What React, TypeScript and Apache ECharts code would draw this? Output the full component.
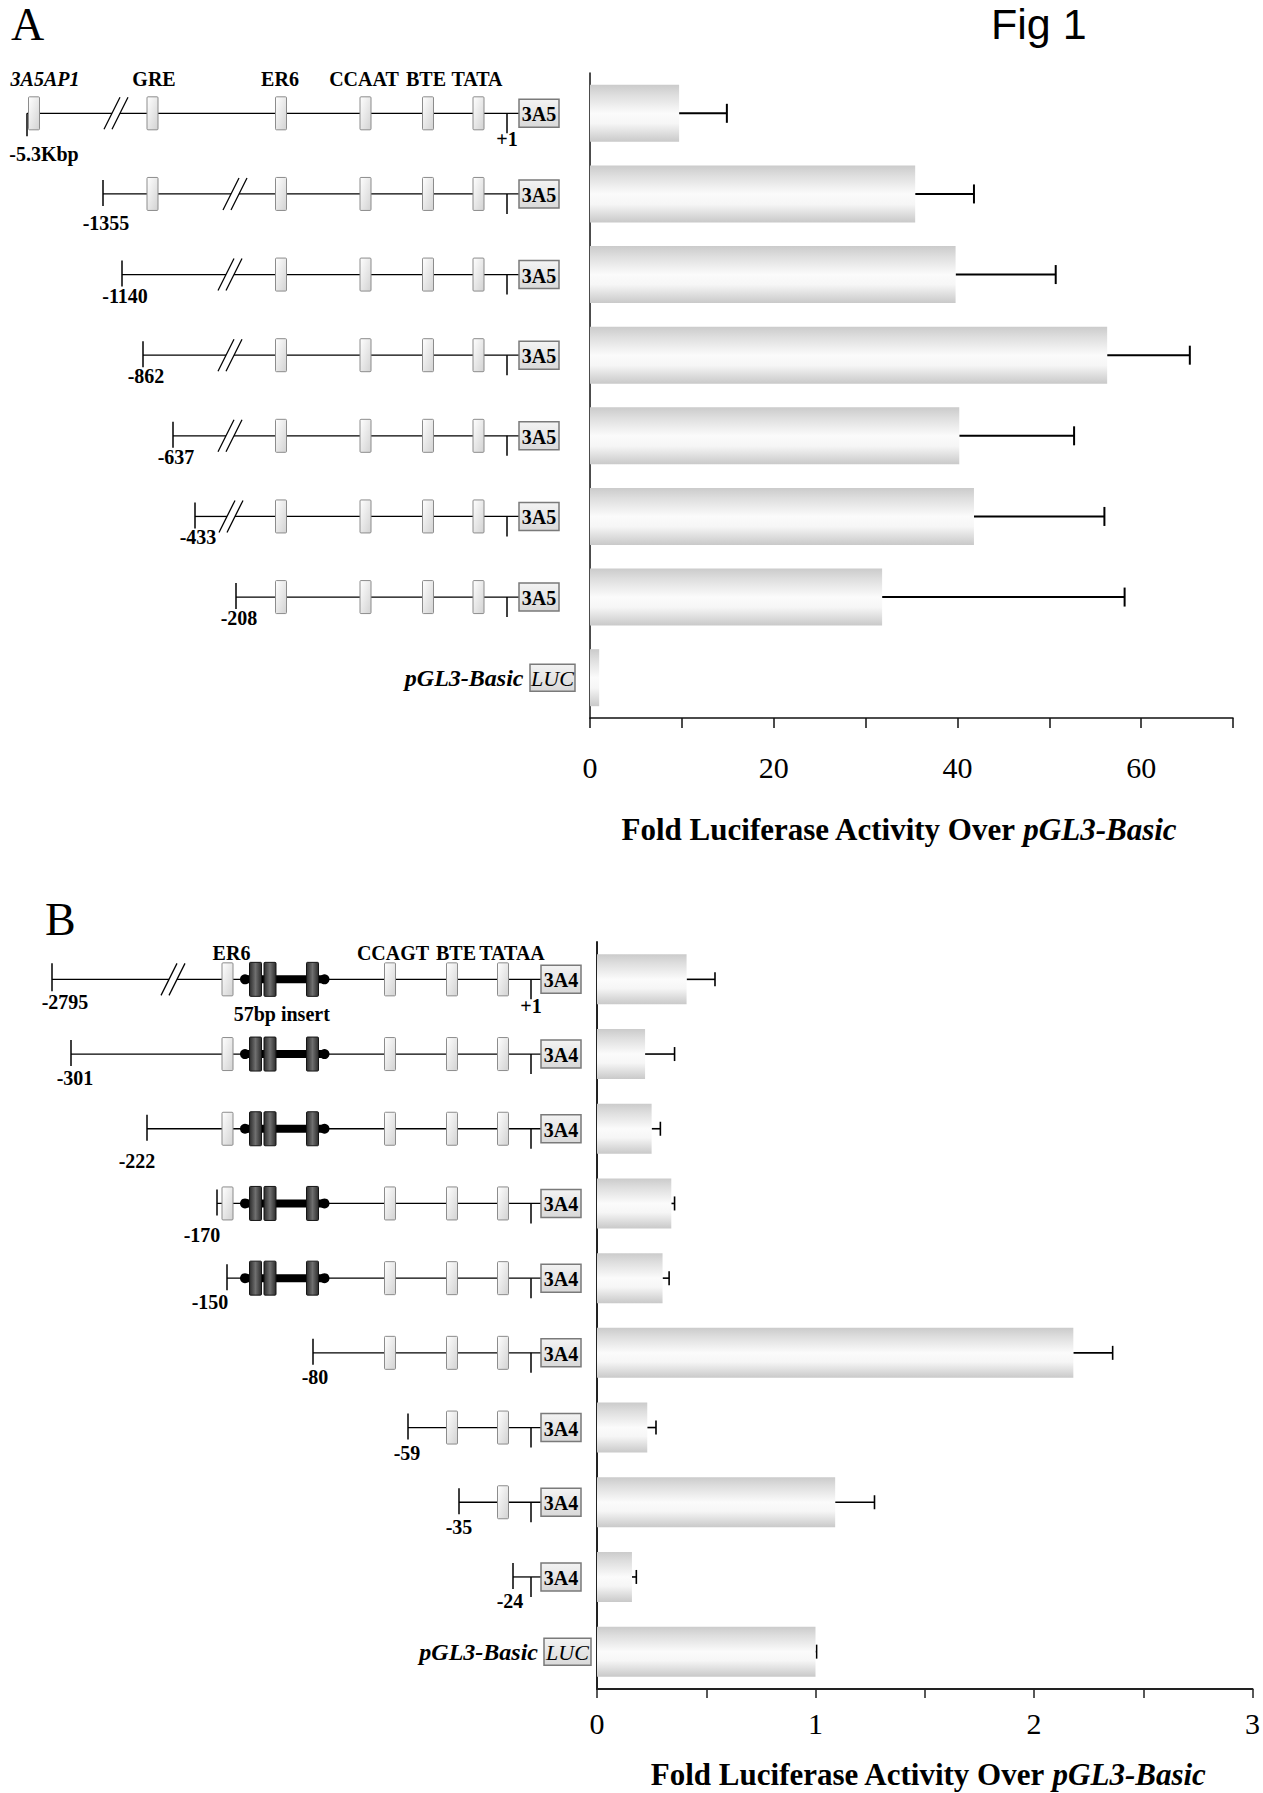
import React, { useEffect, useRef } from 'react';
import * as echarts from 'echarts';

const SERIF = '"Liberation Serif", "Times New Roman", Times, serif';
const SANS = '"Liberation Sans", Arial, Helvetica, sans-serif';

// ---------------- Panel A data (CYP3A5 promoter constructs) ----------------
const aConstructs = ['-5.3Kbp', '-1355', '-1140', '-862', '-637', '-433', '-208', 'pGL3-Basic'];
const aFoldActivity = [9.7, 35.4, 39.8, 56.3, 40.2, 41.8, 31.8, 1.0];
const aErrorTop: (number | null)[] = [14.9, 41.8, 50.7, 65.3, 52.7, 56.0, 58.2, null];
const aAxisMax = 70;
const aAxisStep = 10;
const aLabelStep = 20;

// schematic of panel A (schematic x units)
const aElementNames = ['3A5AP1', 'GRE', 'ER6', 'CCAAT', 'BTE', 'TATA'];
const aElementPos = [34, 152.5, 281, 365.5, 428, 478.5];
const aRowElements = [[0, 1, 2, 3, 4, 5], [1, 2, 3, 4, 5], [2, 3, 4, 5], [2, 3, 4, 5], [2, 3, 4, 5], [2, 3, 4, 5], [2, 3, 4, 5]];
const aStartPos = [27, 103, 122, 143, 173, 195, 236];
const aBreakPos: (number | null)[] = [116, 235, 230, 230, 230, 231, null];
const aLabelPos = [30, 106, 125, 146, 176, 198, 239];

// ---------------- Panel B data (CYP3A4 promoter constructs) ----------------
const bConstructs = ['-2795', '-301', '-222', '-170', '-150', '-80', '-59', '-35', '-24', 'pGL3-Basic'];
const bFoldActivity = [0.41, 0.22, 0.25, 0.34, 0.30, 2.18, 0.23, 1.09, 0.16, 1.0];
const bErrorTop = [0.54, 0.355, 0.29, 0.355, 0.33, 2.36, 0.27, 1.27, 0.18, 1.005];
const bAxisMax = 3;
const bAxisStep = 0.5;
const bLabelStep = 1;

// schematic of panel B
const bElementNames = ['ER6', 'CCAGT', 'BTE', 'TATAA'];
const bElementPos = [227.5, 390, 452, 503];
const bInsertBoxes = [255.5, 270, 312.5];
const bInsertSpan = [245, 324.5];
const bInsertName = '57bp insert';
const bRowElements = [[0, 1, 2, 3], [0, 1, 2, 3], [0, 1, 2, 3], [0, 1, 2, 3], [1, 2, 3], [1, 2, 3], [2, 3], [3], []];
const bRowInsert = [true, true, true, true, true, false, false, false, false];
const bStartPos = [52, 71, 147, 217, 227, 313, 408, 459, 513];
const bBreakPos: (number | null)[] = [173, null, null, null, null, null, null, null, null];
const bLabelPos = [65, 75, 137, 202, 210, 315, 407, 459, 510];

// ---------------- layout constants (not data) ----------------
const aLabelDy = [41, 29, 21, 21, 21, 21, 21];
const bLabelDy = [23, 24, 32, 32, 24, 24, 25, 25, 24];

// ---------------- helpers ----------------
const barFill = () =>
  new echarts.graphic.LinearGradient(0, 0, 0, 1, [
    { offset: 0, color: '#cbcbcb' },
    { offset: 0.18, color: '#dedede' },
    { offset: 0.5, color: '#fbfbfb' },
    { offset: 0.68, color: '#f6f6f6' },
    { offset: 1, color: '#c9c9c9' },
  ]);
const lightBoxFill = () =>
  new echarts.graphic.LinearGradient(0, 0, 1, 1, [
    { offset: 0, color: '#ffffff' },
    { offset: 1, color: '#d2d2d2' },
  ]);
const darkBoxFill = () =>
  new echarts.graphic.LinearGradient(0, 0, 1, 0, [
    { offset: 0, color: '#2c2c2c' },
    { offset: 0.5, color: '#6f6f6f' },
    { offset: 1, color: '#2c2c2c' },
  ]);
const geneFill = () =>
  new echarts.graphic.LinearGradient(0, 0, 0, 1, [
    { offset: 0, color: '#f3f3f3' },
    { offset: 1, color: '#d9d9d9' },
  ]);

interface SchematicCfg {
  labels: string[];
  startPos: number[];
  labelPos: number[];
  labelDy: number[];
  firstTick: [number, number];
  breakPos: (number | null)[];
  rowElements: number[][];
  elementPos: number[];
  elementNames: string[];
  elementItalic: boolean[];
  elementLabelDy: number;
  elementLabelShift: number[];
  tssPos: number;
  tssLabelDy: number;
  geneLeft: number;
  geneName: string;
  basicRight: number;
  lucLeft: number;
  lucWidth: number;
  insertRows?: boolean[];
  insertBoxes?: number[];
  insertSpan?: number[];
  insertName?: string;
}

function schematicRenderer(s: SchematicCfg) {
  return function (_params: any, api: any) {
    const row = api.value(1) as number;
    const X = (v: number) => api.coord([v, row])[0];
    const y = api.coord([0, row])[1];
    const kids: any[] = [];
    const line = (x1: number, y1: number, x2: number, y2: number, w = 1.3) =>
      kids.push({ type: 'line', shape: { x1, y1, x2, y2 }, style: { stroke: '#000', lineWidth: w } });
    const text = (t: string, x: number, yy: number, opts: any = {}) =>
      kids.push({
        type: 'text',
        style: {
          text: t, x, y: yy, fill: '#000', fontFamily: SERIF, fontSize: 20, fontWeight: 'bold',
          align: 'center', verticalAlign: 'middle', textAlign: 'center', textVerticalAlign: 'middle',
          ...opts,
        },
      });

    if (row === s.labels.length) {
      text('pGL3-Basic', X(s.basicRight), y, { align: 'right', textAlign: 'right', fontStyle: 'italic', fontSize: 24 });
      kids.push({
        type: 'rect',
        shape: { x: X(s.lucLeft), y: y - 13.5, width: X(s.lucLeft + s.lucWidth) - X(s.lucLeft), height: 27 },
        style: { fill: geneFill(), stroke: '#7a7a7a', lineWidth: 1.5 },
      });
      text('LUC', X(s.lucLeft + s.lucWidth / 2), y + 1, { fontStyle: 'italic', fontWeight: 'normal', fontSize: 22 });
      return { type: 'group', children: kids };
    }

    const start = s.startPos[row];
    const brk = s.breakPos[row];
    const gap = 4;
    if (brk != null) {
      line(X(start), y, X(brk - gap), y);
      line(X(brk + gap), y, X(s.geneLeft), y);
      [-gap, gap].forEach((d) => line(X(brk + d - 8), y + 16, X(brk + d + 8), y - 16, 1.3));
    } else {
      line(X(start), y, X(s.geneLeft), y);
    }
    // start tick
    if (row === 0) line(X(start), y + s.firstTick[0], X(start), y + s.firstTick[1], 1.5);
    else line(X(start), y - 14, X(start), y + 12, 1.5);

    // 57 bp insert
    if (s.insertRows && s.insertRows[row] && s.insertBoxes && s.insertSpan) {
      const [i0, i1] = s.insertSpan;
      kids.push({ type: 'rect', shape: { x: X(i0), y: y - 4, width: X(i1) - X(i0), height: 8 }, style: { fill: '#000' } });
      kids.push({ type: 'circle', shape: { cx: X(i0), cy: y, r: 5 }, style: { fill: '#000' } });
      kids.push({ type: 'circle', shape: { cx: X(i1), cy: y, r: 5 }, style: { fill: '#000' } });
      s.insertBoxes.forEach((p) =>
        kids.push({
          type: 'rect',
          shape: { x: X(p) - 6, y: y - 17, width: 12, height: 34, r: 1 },
          style: { fill: darkBoxFill(), stroke: '#151515', lineWidth: 1 },
        })
      );
      if (row === 0 && s.insertName) text(s.insertName, X((i0 + i1) / 2 - 3), y + 35);
    }

    // regulatory element boxes
    s.rowElements[row].forEach((ei) => {
      const p = s.elementPos[ei];
      kids.push({
        type: 'rect',
        shape: { x: X(p) - 5.5, y: y - 16.5, width: 11, height: 33, r: 1 },
        style: { fill: lightBoxFill(), stroke: '#8c8c8c', lineWidth: 1 },
      });
    });

    // transcription start (+1)
    line(X(s.tssPos), y, X(s.tssPos), y + 20, 1.5);

    // reporter gene box
    kids.push({
      type: 'rect',
      shape: { x: X(s.geneLeft), y: y - 14, width: X(s.geneLeft + 40) - X(s.geneLeft), height: 28 },
      style: { fill: geneFill(), stroke: '#7a7a7a', lineWidth: 1.5 },
    });
    text(s.geneName, X(s.geneLeft + 20), y + 1);

    // construct label
    const lbl = s.labels[row];
    const approxW = lbl.length * 10;
    const cx = Math.max(s.labelPos[row], 9 + approxW / 2);
    text(lbl, X(cx), y + s.labelDy[row]);

    if (row === 0) {
      s.elementNames.forEach((nm, ei) => {
        const w = nm.length * 12;
        const c = Math.max(s.elementPos[ei] + s.elementLabelShift[ei], 9 + w / 2);
        text(nm, X(c), y + s.elementLabelDy, s.elementItalic[ei] ? { fontStyle: 'italic' } : {});
      });
      text('+1', X(s.tssPos), y + s.tssLabelDy);
    }
    return { type: 'group', children: kids };
  };
}

const aSchematic: SchematicCfg = {
  labels: aConstructs.slice(0, 7),
  startPos: aStartPos,
  labelPos: aLabelPos,
  labelDy: aLabelDy,
  firstTick: [0, 23],
  breakPos: aBreakPos,
  rowElements: aRowElements,
  elementPos: aElementPos,
  elementNames: aElementNames,
  elementItalic: [true, false, false, false, false, false],
  elementLabelDy: -34,
  elementLabelShift: [0, 1.5, -1, -1.5, -2, -1.5],
  tssPos: 507,
  tssLabelDy: 26,
  geneLeft: 519,
  geneName: '3A5',
  basicRight: 523.5,
  lucLeft: 530,
  lucWidth: 45,
};

const bSchematic: SchematicCfg = {
  labels: bConstructs.slice(0, 9),
  startPos: bStartPos,
  labelPos: bLabelPos,
  labelDy: bLabelDy,
  firstTick: [-16, 12],
  breakPos: bBreakPos,
  rowElements: bRowElements,
  elementPos: bElementPos,
  elementNames: bElementNames,
  elementItalic: [false, false, false, false],
  elementLabelShift: [4, 3, 4, 9],
  elementLabelDy: -26,
  tssPos: 531,
  tssLabelDy: 27,
  geneLeft: 541,
  geneName: '3A4',
  basicRight: 538,
  lucLeft: 544,
  lucWidth: 47,
  insertRows: bRowInsert,
  insertBoxes: bInsertBoxes,
  insertSpan: bInsertSpan,
  insertName: bInsertName,
};

function errorRenderer(cap: number, width: number) {
  return function (_params: any, api: any) {
    const row = api.value(1);
    const p0 = api.coord([api.value(0), row]);
    const p1 = api.coord([api.value(2), row]);
    return {
      type: 'group',
      children: [
        { type: 'line', shape: { x1: p0[0], y1: p0[1], x2: p1[0], y2: p1[1] }, style: { stroke: '#000', lineWidth: width } },
        { type: 'line', shape: { x1: p1[0], y1: p1[1] - cap / 2, x2: p1[0], y2: p1[1] + cap / 2 }, style: { stroke: '#000', lineWidth: width } },
      ],
    };
  };
}

const titleRich = {
  n: { fontFamily: SERIF, fontSize: 31, fontWeight: 'bold', color: '#000' },
  i: { fontFamily: SERIF, fontSize: 31, fontWeight: 'bold', fontStyle: 'italic', color: '#000' },
};
const axisTitle = '{n|Fold Luciferase Activity Over }{i|pGL3-Basic}';

function buildOption() {
  const axisLineStyle = { color: '#111', width: 1.5 };
  return {
    animation: false,
    backgroundColor: '#ffffff',
    grid: [
      { left: 590, top: 73, width: 643, height: 645 },
      { left: 0, top: 73, width: 590, height: 645 },
      { left: 597, top: 942, width: 656, height: 747 },
      { left: 0, top: 942, width: 597, height: 747 },
    ],
    xAxis: [
      {
        type: 'value', gridIndex: 0, min: 0, max: aAxisMax, interval: aAxisStep,
        axisLine: { show: true, lineStyle: axisLineStyle },
        axisTick: { show: true, length: 10, lineStyle: axisLineStyle },
        splitLine: { show: false },
        axisLabel: {
          margin: 34, fontFamily: SERIF, fontSize: 30, color: '#000',
          formatter: (v: number) => (v % aLabelStep === 0 ? String(v) : ''),
        },
        name: axisTitle, nameLocation: 'middle', nameGap: 111.5,
        nameTextStyle: { rich: titleRich, verticalAlign: 'middle', padding: [0, 26, 0, 0] },
      },
      { type: 'value', gridIndex: 1, min: 0, max: 590, show: false },
      {
        type: 'value', gridIndex: 2, min: 0, max: bAxisMax, interval: bAxisStep,
        axisLine: { show: true, lineStyle: { color: '#222', width: 2 } },
        axisTick: { show: true, length: 9, lineStyle: { color: '#222', width: 1.5 } },
        splitLine: { show: false },
        axisLabel: {
          margin: 19, fontFamily: SERIF, fontSize: 30, color: '#000',
          formatter: (v: number) => (Math.abs(v % bLabelStep) < 1e-9 ? String(v) : ''),
        },
        name: axisTitle, nameLocation: 'middle', nameGap: 85.5,
        nameTextStyle: { rich: titleRich, verticalAlign: 'middle', padding: [0, 0, 0, 6] },
      },
      { type: 'value', gridIndex: 3, min: 0, max: 597, show: false },
    ],
    yAxis: [
      {
        type: 'category', gridIndex: 0, inverse: true, data: aConstructs,
        axisLine: { show: true, lineStyle: axisLineStyle }, axisTick: { show: false }, axisLabel: { show: false },
      },
      { type: 'category', gridIndex: 1, inverse: true, data: aConstructs, show: false },
      {
        type: 'category', gridIndex: 2, inverse: true, data: bConstructs,
        axisLine: { show: true, lineStyle: { color: '#222', width: 2 } }, axisTick: { show: false }, axisLabel: { show: false },
      },
      { type: 'category', gridIndex: 3, inverse: true, data: bConstructs, show: false },
    ],
    series: [
      {
        type: 'bar', name: 'A activity', xAxisIndex: 0, yAxisIndex: 0, data: aFoldActivity, barWidth: 57,
        itemStyle: { color: barFill() }, silent: true,
      },
      {
        type: 'custom', name: 'A error', xAxisIndex: 0, yAxisIndex: 0,
        data: aFoldActivity.map((v, i) => [v, i, aErrorTop[i]]).filter((d) => d[2] != null),
        encode: { x: [0, 2], y: 1 }, renderItem: errorRenderer(19, 2), silent: true,
      },
      {
        type: 'custom', name: 'A constructs', xAxisIndex: 1, yAxisIndex: 1,
        data: aConstructs.map((_, i) => [0, i]), encode: { x: 0, y: 1 },
        renderItem: schematicRenderer(aSchematic), silent: true,
      },
      {
        type: 'bar', name: 'B activity', xAxisIndex: 2, yAxisIndex: 2, data: bFoldActivity, barWidth: 50,
        itemStyle: { color: barFill() }, silent: true,
      },
      {
        type: 'custom', name: 'B error', xAxisIndex: 2, yAxisIndex: 2,
        data: bFoldActivity.map((v, i) => [v, i, bErrorTop[i]]),
        encode: { x: [0, 2], y: 1 }, renderItem: errorRenderer(14, 1.6), silent: true,
      },
      {
        type: 'custom', name: 'B constructs', xAxisIndex: 3, yAxisIndex: 3,
        data: bConstructs.map((_, i) => [0, i]), encode: { x: 0, y: 1 },
        renderItem: schematicRenderer(bSchematic), silent: true,
      },
    ],
    graphic: [
      {
        type: 'text', x: 991, y: 24,
        style: { text: 'Fig 1', fontFamily: SANS, fontSize: 43, fill: '#000', verticalAlign: 'middle', textVerticalAlign: 'middle' },
      },
      {
        type: 'text', x: 11, y: 24.5,
        style: { text: 'A', fontFamily: SERIF, fontSize: 46, fill: '#000', verticalAlign: 'middle', textVerticalAlign: 'middle' },
      },
      {
        type: 'text', x: 45, y: 919.5,
        style: { text: 'B', fontFamily: SERIF, fontSize: 46, fill: '#000', verticalAlign: 'middle', textVerticalAlign: 'middle' },
      },
    ],
  };
}

export default function App() {
  const ref = useRef<HTMLDivElement>(null);
  useEffect(() => {
    if (!ref.current) return;
    const chart = echarts.init(ref.current, undefined, { renderer: 'svg' });
    chart.setOption(buildOption() as any);
    return () => chart.dispose();
  }, []);
  return (
    <div
      ref={ref}
      style={{ position: 'absolute', left: 0, top: 0, width: 1263, height: 1793, background: '#fff' }}
    />
  );
}
